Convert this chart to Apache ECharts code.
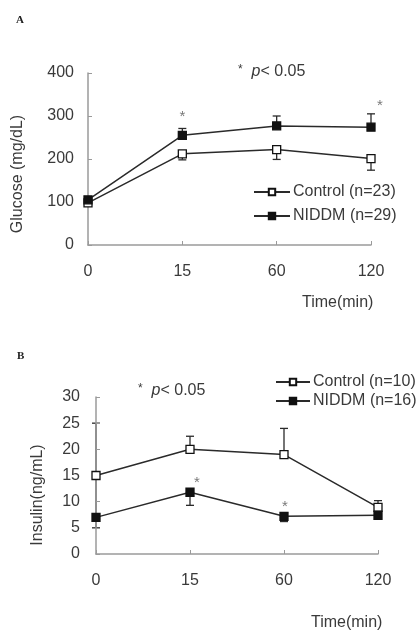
<!DOCTYPE html>
<html><head><meta charset="utf-8">
<script src="https://cdn.jsdelivr.net/npm/echarts@6/dist/echarts.min.js"></script>
<style>html,body{margin:0;padding:0;background:#fff}#c{width:419px;height:631px}</style>
</head><body><div id="c"></div>
<script>
// ---- data ----
const categories = ['0', '15', '60', '120'];
// Panel A: glucose (mg/dL)
const glucoseControl = [98, 212, 222, 201];
const glucoseControlErrDown = [0, 14, 23, 27];
const glucoseControlErrUp = [0, 0, 0, 0];
const glucoseNiddm = [105, 255, 277, 274];
const glucoseNiddmErrDown = [0, 0, 0, 0];
const glucoseNiddmErrUp = [0, 16, 23, 31];
const glucoseStars = [[1, 297], [3, 323]];
const glucoseTicks = [0, 100, 200, 300, 400];
// Panel B: insulin (ng/mL)
const insulinControl = [15, 20, 19, 8.9];
const insulinControlErrDown = [10, 0, 0, 0];
const insulinControlErrUp = [10, 2.5, 5, 1.3];
const insulinNiddm = [7, 11.8, 7.2, 7.4];
const insulinNiddmErrDown = [0, 2.5, 1, 0.4];
const insulinNiddmErrUp = [0, 0, 0, 0];
const insulinStars = [[1, 13.6], [2, 9.1]];
const insulinTicks = [0, 5, 10, 15, 20, 25, 30];

const FONT = '"Liberation Sans", Arial, sans-serif';
const TXT = '#3a3a3a';
const LINE = '#2a2a2a';
const AXIS = '#9a9a9a';

function errData(vals, down, up) {
  return vals.map((v, i) => [i, v, down[i], up[i]]);
}
function errSeries(idx, vals, down, up) {
  return {
    type: 'custom', xAxisIndex: idx, yAxisIndex: idx, z: -1, silent: true,
    data: errData(vals, down, up),
    renderItem: function (params, api) {
      const i = api.value(0), v = api.value(1), d = api.value(2), u = api.value(3);
      const c = api.coord([i, v]);
      const children = [];
      const style = { stroke: LINE, lineWidth: 1.3 };
      const hw = 4;
      if (u > 0) {
        const t = api.coord([i, v + u])[1];
        children.push({ type: 'line', shape: { x1: c[0], y1: c[1], x2: c[0], y2: t }, style });
        children.push({ type: 'line', shape: { x1: c[0] - hw, y1: t, x2: c[0] + hw, y2: t }, style });
      }
      if (d > 0) {
        const b = api.coord([i, v - d])[1];
        children.push({ type: 'line', shape: { x1: c[0], y1: c[1], x2: c[0], y2: b }, style });
        children.push({ type: 'line', shape: { x1: c[0] - hw, y1: b, x2: c[0] + hw, y2: b }, style });
      }
      return { type: 'group', children };
    }
  };
}
function lineSeries(idx, name, vals, filled) {
  return {
    type: 'line', name, xAxisIndex: idx, yAxisIndex: idx, z: 3,
    data: vals, symbol: 'rect', symbolSize: 8, showSymbol: true,
    lineStyle: { color: LINE, width: 1.5 },
    itemStyle: { color: filled ? '#111' : '#fff', borderColor: '#111', borderWidth: 1.3 },
    emphasis: { disabled: true }, animation: false
  };
}
function starSeries(idx, data, offsets) {
  return {
    type: 'scatter', xAxisIndex: idx, yAxisIndex: idx, z: 4, symbolSize: 1,
    itemStyle: { color: 'rgba(0,0,0,0)' },
    data: data.map((d, k) => ({ value: d, label: { offset: offsets[k] } })),
    label: { show: true, position: 'inside', formatter: '*', color: '#555', fontSize: 15, fontFamily: FONT },
    animation: false
  };
}
function xAxis(idx) {
  return {
    type: 'category', gridIndex: idx, data: categories, boundaryGap: false,
    axisLine: { lineStyle: { color: AXIS, width: 1.5 } },
    axisTick: { show: true, inside: true, length: 4, lineStyle: { color: AXIS } },
    axisLabel: { color: TXT, fontSize: 16, fontFamily: FONT, margin: 19 },
    splitLine: { show: false }, z: 0
  };
}
function yAxis(idx, ticks, margin) {
  return {
    type: 'value', gridIndex: idx, min: ticks[0], max: ticks[ticks.length - 1],
    interval: ticks[1] - ticks[0],
    axisLine: { show: true, lineStyle: { color: AXIS, width: 1.5 } },
    axisTick: { show: true, inside: true, length: 4, lineStyle: { color: AXIS } },
    axisLabel: { color: TXT, fontSize: 16, fontFamily: FONT, margin: margin },
    splitLine: { show: false }, z: 0
  };
}

const chart = echarts.init(document.getElementById('c'));
chart.setOption({
  animation: false,
  backgroundColor: '#fff',
  grid: [
    { left: 88, right: 48, top: 73, bottom: 386 },
    { left: 96, right: 41, top: 397, bottom: 77 }
  ],
  xAxis: [xAxis(0), xAxis(1)],
  yAxis: [yAxis(0, glucoseTicks, 14), yAxis(1, insulinTicks, 16)],
  legend: [
    { data: ['Control (n=23)', 'NIDDM (n=29)'], orient: 'vertical', left: 248, top: 179,
      itemWidth: 36, itemHeight: 8, itemGap: 8,
      textStyle: { color: TXT, fontSize: 16, fontFamily: FONT, padding: [0, 0, 0, -2] } },
    { data: ['Control (n=10)', 'NIDDM (n=16)'], orient: 'vertical', left: 270, top: 369,
      itemWidth: 34, itemHeight: 8, itemGap: 3,
      textStyle: { color: TXT, fontSize: 16, fontFamily: FONT, padding: [0, 0, 0, -2] } }
  ],
  series: [
    errSeries(0, glucoseControl, glucoseControlErrDown, glucoseControlErrUp),
    errSeries(0, glucoseNiddm, glucoseNiddmErrDown, glucoseNiddmErrUp),
    lineSeries(0, 'Control (n=23)', glucoseControl, false),
    lineSeries(0, 'NIDDM (n=29)', glucoseNiddm, true),
    starSeries(0, glucoseStars, [[0, 0], [9, 0]]),
    errSeries(1, insulinControl, insulinControlErrDown, insulinControlErrUp),
    errSeries(1, insulinNiddm, insulinNiddmErrDown, insulinNiddmErrUp),
    lineSeries(1, 'Control (n=10)', insulinControl, false),
    lineSeries(1, 'NIDDM (n=16)', insulinNiddm, true),
    starSeries(1, insulinStars, [[7, 0], [1, 0]])
  ],
  graphic: [
    { type: 'text', left: 16, top: 15, style: { text: 'A', font: 'bold 11px "Liberation Serif", serif', fill: '#222' } },
    { type: 'text', left: 17, top: 351, style: { text: 'B', font: 'bold 11px "Liberation Serif", serif', fill: '#222' } },
    { type: 'text', x: 18, y: 174, rotation: Math.PI / 2,
      style: { text: 'Glucose (mg/dL)', font: '16px ' + FONT, fill: TXT, align: 'center', verticalAlign: 'middle' } },
    { type: 'text', x: 38, y: 495, rotation: Math.PI / 2,
      style: { text: 'Insulin(ng/mL)', font: '16px ' + FONT, fill: TXT, align: 'center', verticalAlign: 'middle' } },
    { type: 'text', x: 302, y: 303,
      style: { text: 'Time(min)', font: '16px ' + FONT, fill: TXT, align: 'left', verticalAlign: 'middle' } },
    { type: 'text', x: 311, y: 623,
      style: { text: 'Time(min)', font: '16px ' + FONT, fill: TXT, align: 'left', verticalAlign: 'middle' } },
    { type: 'text', x: 238, y: 72,
      style: { text: '{s|*}  {p|p}< 0.05', verticalAlign: 'middle',
        rich: { s: { fontSize: 12, fontFamily: FONT, fill: TXT, verticalAlign: 'top' },
                p: { fontSize: 16, fontFamily: FONT, fontStyle: 'italic', fill: TXT } },
        font: '16px ' + FONT, fill: TXT } },
    { type: 'text', x: 138, y: 391,
      style: { text: '{s|*}  {p|p}< 0.05', verticalAlign: 'middle',
        rich: { s: { fontSize: 12, fontFamily: FONT, fill: TXT, verticalAlign: 'top' },
                p: { fontSize: 16, fontFamily: FONT, fontStyle: 'italic', fill: TXT } },
        font: '16px ' + FONT, fill: TXT } }
  ]
});
</script></body></html>
